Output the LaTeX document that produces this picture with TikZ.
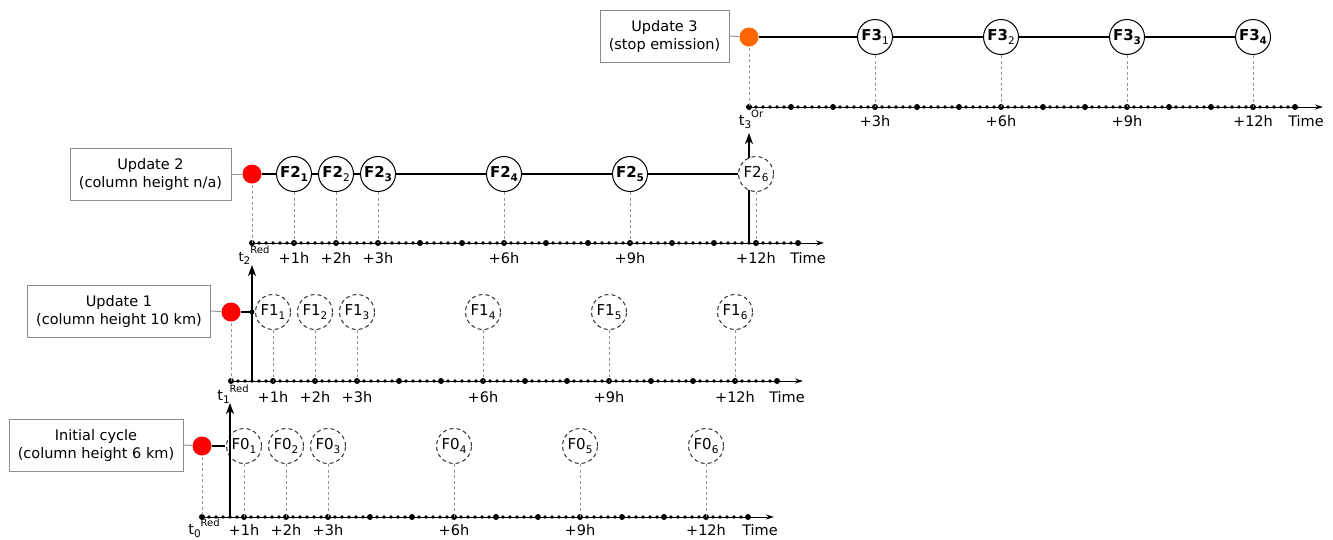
\documentclass[tikz,border=0pt]{standalone}
\usepackage{fontspec}
\setmainfont{DejaVu Sans}
\usetikzlibrary{arrows.meta}
\definecolor{dotred}{RGB}{255,0,0}
\definecolor{dotorange}{RGB}{255,102,0}
\definecolor{linegray}{RGB}{150,150,150}
\definecolor{boxgray}{RGB}{140,140,140}
\newcommand{\tlab}[2]{t\raisebox{-0.45ex}{\fontsize{10.5}{11}\selectfont #1}\raisebox{1.0ex}{\fontsize{10}{11}\selectfont #2}}
\newcommand{\fsub}[2]{#1\raisebox{-0.45ex}{\fontsize{10.5}{11}\selectfont #2}}
\newcommand{\drawtimeline}[2]{%
  \foreach \k in {0,...,13} {\fill (#1+42*\k,#2) circle (3pt);}
  \foreach \k in {0,...,12} {\foreach \j in {1,...,5} {\fill (#1+42*\k+7*\j,#2) circle (1.9pt);}}
}
\begin{document}
\begin{tikzpicture}[x=1pt,y=-1pt,
 box/.style={draw=boxgray, line width=0.9pt, minimum height=52pt, align=center, font=\fontsize{14.5}{18}\selectfont, inner sep=0},
 emis/.style={circle, minimum size=19pt, inner sep=0},
 fc/.style={circle, draw, minimum size=35pt, inner sep=0, font=\fontsize{15}{17}\selectfont, line width=1pt},
 fdash/.style={fc, draw=black!80, dash pattern=on 4pt off 3pt},
 thickline/.style={line width=2.2pt},
 guide/.style={draw=linegray, line width=0.9pt, dash pattern=on 3pt off 2.5pt},
 conn/.style={draw=linegray, line width=1pt},
 axis/.style={line width=1pt, -{Stealth[length=8pt,width=5pt]}},
 jump/.style={line width=1.5pt, -{Stealth[length=11pt,width=8pt,inset=3pt]}},
 hl/.style={font=\fontsize{14.5}{16}\selectfont, anchor=base},
]
\useasboundingbox (0,0) rectangle (1333,539);

% ---------------- Row 0: Initial cycle ----------------
\coordinate (a0) at (202,517);
\coordinate (e0) at (774,517);
\draw[axis] (a0) -- (e0);
\drawtimeline{202}{517}
\node[box, minimum width=174pt] (b0) at (96,445) {Initial cycle\\(column height 6 km)};
\node[emis] (r0) at (202,446) {};
\foreach \n/\x in {1/244,2/286,3/328,4/454,5/580,6/706} {
  \node[fdash] (f0\n) at (\x,446) {\fsub{F0}{\n}};
  \coordinate (h0\n) at (\x,517);
  \draw[guide] (f0\n) -- (h0\n);
}
\draw[guide] (r0.center) -- (a0);
\fill[dotred] (r0) circle (9.5pt);
\draw[conn] (b0.east) -- (r0);
\coordinate (s0) at (225,446);
\draw[thickline] (r0) -- (s0);
\foreach \n/\x/\t in {1/244/+1h,2/286/+2h,3/328/+3h,4/454/+6h,5/580/+9h,6/706/+12h} {
  \node[hl] (l0\n) at (\x,535) {\t};
}
\node[hl] (tl0) at (204,534) {\tlab{0}{Red}};
\node[hl] (tm0) at (760,535) {Time};
\coordinate (j0a) at (230,517);
\coordinate (j0b) at (230,403);
\draw[jump] (j0a) -- (j0b);

% ---------------- Row 1: Update 1 ----------------
\coordinate (a1) at (231,381);
\coordinate (e1) at (803,381);
\draw[axis] (a1) -- (e1);
\drawtimeline{231}{381}
\node[box, minimum width=183pt] (b1) at (119,311) {Update 1\\(column height 10 km)};
\node[emis] (r1) at (231,312) {};
\foreach \n/\x in {1/273,2/315,3/357,4/483,5/609,6/735} {
  \node[fdash] (f1\n) at (\x,312) {\fsub{F1}{\n}};
  \coordinate (h1\n) at (\x,381);
  \draw[guide] (f1\n) -- (h1\n);
}
\draw[guide] (r1.center) -- (a1);
\fill[dotred] (r1) circle (9.5pt);
\draw[conn] (b1.east) -- (r1);
\coordinate (s1) at (252,312);
\draw[thickline] (r1) -- (s1);
\fill (s1) circle (2.4pt);
\foreach \n/\x/\t in {1/273/+1h,2/315/+2h,3/357/+3h,4/483/+6h,5/609/+9h,6/735/+12h} {
  \node[hl] (l1\n) at (\x,402) {\t};
}
\node[hl] (tl1) at (233,400) {\tlab{1}{Red}};
\node[hl] (tm1) at (787,402) {Time};
\coordinate (j1a) at (252,381);
\coordinate (j1b) at (252,265);
\draw[jump] (j1a) -- (j1b);

% ---------------- Row 2: Update 2 ----------------
\coordinate (a2) at (252,243);
\coordinate (e2) at (824,243);
\draw[axis] (a2) -- (e2);
\drawtimeline{252}{243}
\node[box, minimum width=161pt] (b2) at (150.5,174) {Update 2\\(column height n/a)};
\node[emis] (r2) at (252,174) {};
\node[fc] (f21) at (294,174) {\fsub{\textbf{F2}}{\textbf{1}}};
\node[fc] (f22) at (336,174) {\fsub{\textbf{F2}}{2}};
\node[fc] (f23) at (378,174) {\fsub{\textbf{F2}}{\textbf{3}}};
\node[fc] (f24) at (504,174) {\fsub{\textbf{F2}}{\textbf{4}}};
\node[fc] (f25) at (630,174) {\fsub{\textbf{F2}}{\textbf{5}}};
\node[fdash] (f26) at (756,174) {\fsub{F2}{6}};
\foreach \n/\x in {1/294,2/336,3/378,4/504,5/630,6/756} {
  \coordinate (h2\n) at (\x,243);
  \draw[guide] (f2\n) -- (h2\n);
}
\draw[guide] (r2.center) -- (a2);
\draw[thickline] (r2) -- (f21) -- (f22) -- (f23) -- (f24) -- (f25) -- (f26);
\fill[dotred] (r2) circle (9.5pt);
\draw[conn] (b2.east) -- (r2);
\foreach \n/\x/\t in {1/294/+1h,2/336/+2h,3/378/+3h,4/504/+6h,5/630/+9h,6/756/+12h} {
  \node[hl] (l2\n) at (\x,263) {\t};
}
\node[hl, font=\fontsize{13}{14}\selectfont] (tl2) at (254,261) {\tlab{2}{Red}};
\node[hl] (tm2) at (808,263) {Time};
\coordinate (v2a) at (749,243);
\coordinate (v2b) at (749,190);
\draw[line width=1.3pt] (v2a) -- (v2b);
\coordinate (j2a) at (749,158);
\coordinate (j2b) at (749,133);
\draw[jump] (j2a) -- (j2b);

% ---------------- Row 3: Update 3 ----------------
\coordinate (a3) at (749,107);
\coordinate (e3) at (1323,107);
\draw[axis] (a3) -- (e3);
\drawtimeline{749}{107}
\node[box, minimum width=129pt] (b3) at (664.5,36) {Update 3\\(stop emission)};
\node[emis] (r3) at (749,37) {};
\node[fc] (f31) at (875,37) {\fsub{\textbf{F3}}{1}};
\node[fc] (f32) at (1001,37) {\fsub{\textbf{F3}}{2}};
\node[fc] (f33) at (1127,37) {\fsub{\textbf{F3}}{\textbf{3}}};
\node[fc] (f34) at (1253,37) {\fsub{\textbf{F3}}{\textbf{4}}};
\foreach \n/\x in {1/875,2/1001,3/1127,4/1253} {
  \coordinate (h3\n) at (\x,107);
  \draw[guide] (f3\n) -- (h3\n);
}
\draw[guide] (r3.center) -- (a3);
\draw[thickline] (r3) -- (f31) -- (f32) -- (f33) -- (f34);
\fill[dotorange] (r3) circle (9.5pt);
\draw[conn] (b3.east) -- (r3);
\foreach \n/\x/\t in {1/875/+3h,2/1001/+6h,3/1127/+9h,4/1253/+12h} {
  \node[hl] (l3\n) at (\x,126) {\t};
}
\node[hl] (tl3) at (751,125) {\tlab{3}{Or}};
\node[hl] (tm3) at (1306,126) {Time};
\end{tikzpicture}
\end{document}
